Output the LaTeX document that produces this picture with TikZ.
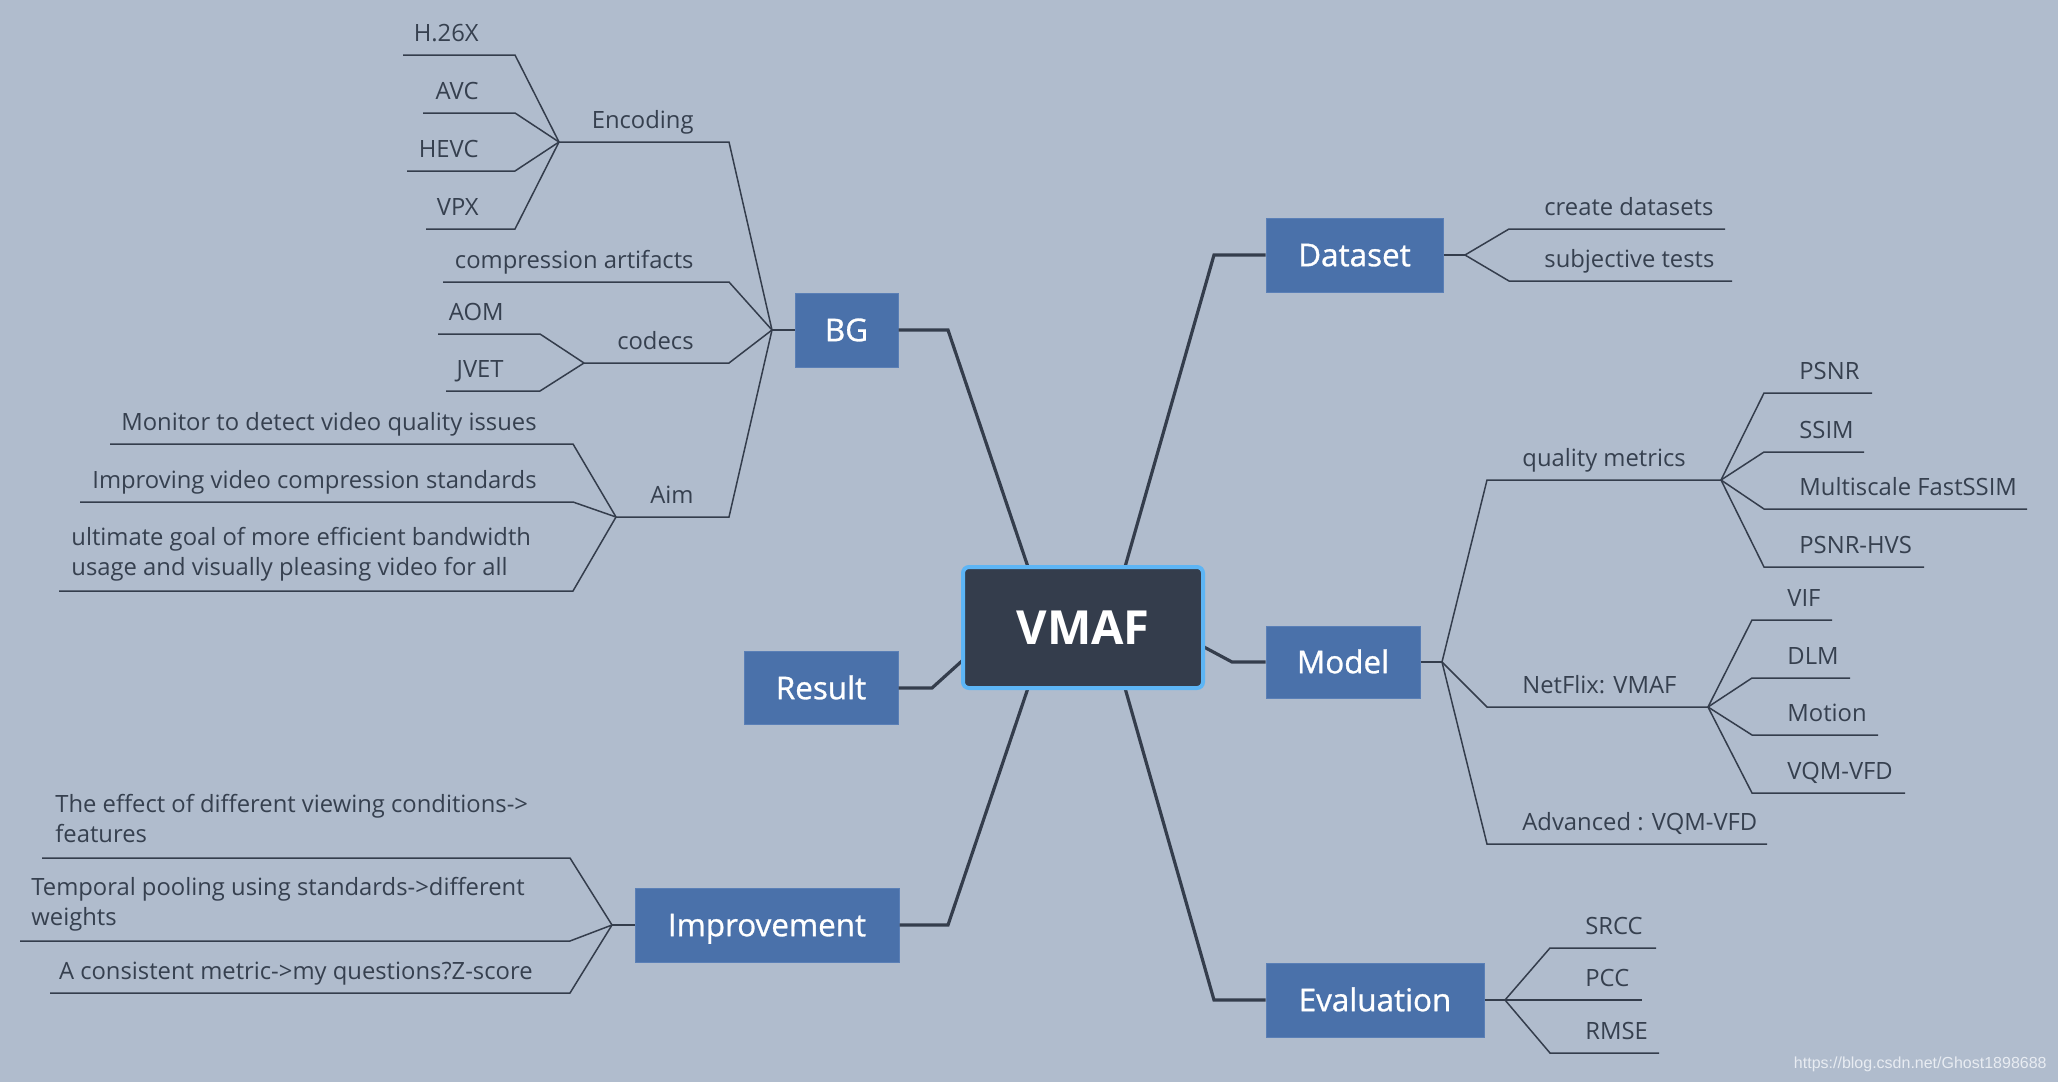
\documentclass[tikz,border=0pt]{standalone}
\usepackage{fontspec}
\setmainfont{Open Sans}
\newfontfamily\boxfamily[FakeBold=0.9]{Open Sans}
\newfontfamily\wmfont{Liberation Sans}
\definecolor{bgc}{HTML}{B0BCCD}
\definecolor{boxblue}{HTML}{4A71AA}
\definecolor{boxedge}{HTML}{5A7FB6}
\definecolor{darkc}{HTML}{343D4C}
\definecolor{ringc}{HTML}{5DB5F5}
\definecolor{linec}{HTML}{343D4C}
\definecolor{textc}{HTML}{36404F}
\definecolor{wmc}{HTML}{E8ECF2}
\newcommand\lblfont{\fontsize{11.9}{14.75}\selectfont}
\newcommand\boxfont{\boxfamily\fontsize{15.7}{18}\selectfont}
\begin{document}
\begin{tikzpicture}[x=0.5pt,y=-0.5pt,
  topic/.style={fill=boxblue, draw=boxedge, line width=0.5pt, text=white, font=\boxfont, minimum height=37pt, inner sep=0pt, text height=11.2pt, text depth=0pt},
  mainline/.style={draw=linec, line width=1.6pt},
  subline/.style={draw=linec, line width=0.75pt},
  lbl/.style={text=textc, font=\lblfont, inner sep=0pt},
  lblL/.style={lbl, anchor=base east},
  lblR/.style={lbl, anchor=base west},
  lblM/.style={lbl, anchor=base west, align=left}]
\fill[bgc] (0,0) rectangle (2058,1082);
\useasboundingbox (0,0) rectangle (2058,1082);

% ---------- main connector ends on the central node ----------
\coordinate (v-tl) at (1028,567); \coordinate (v-tr) at (1125,567);
\coordinate (v-bl) at (1028,688); \coordinate (v-br) at (1125,688);
\coordinate (v-r) at (1204,647); \coordinate (v-l) at (963,660);

% ---------- topic boxes ----------
\node[topic, minimum width=51.5pt] (bg) at (846.5,330) {BG};
\node[topic, minimum width=88.5pt] (dataset) at (1354.5,255) {Dataset};
\node[topic, minimum width=77pt, minimum height=36pt] (model) at (1343,662) {Model};
\node[topic, minimum width=77pt, minimum height=36.5pt] (result) at (821,688) {Result};
\node[topic, minimum width=132pt] (improve) at (767,925) {Improvement};
\node[topic, minimum width=109pt] (eval) at (1375,1000) {Evaluation};

\draw[mainline] (v-tl) -- (948,330) -- (bg.east);
\draw[mainline] (v-tr) -- (1214,255) -- (dataset.west);
\draw[mainline] (v-r) -- (1232,662) -- (model.west);
\draw[mainline] (v-l) -- (932,688) -- (result.east);
\draw[mainline] (v-bl) -- (948,925) -- (improve.east);
\draw[mainline] (v-br) -- (1214,1000) -- (eval.west);

% ---------- central node ----------
\node[draw=ringc, line width=2pt, fill=darkc, rounded corners=3pt, minimum width=120pt, minimum height=60.5pt, inner sep=0pt, text=white, font=\fontsize{23.5}{26}\selectfont\bfseries] (vmaf) at (1083,627.5) {VMAF};

% ---------- BG branch ----------
\coordinate (bg-f) at (772,330);
\draw[subline] (bg.west) -- (bg-f);
\node[lblL] (enc) at (694,128) {Encoding};
\node[lblL] (comp) at (694,268) {compression artifacts};
\node[lblL] (codecs) at (694,349) {codecs};
\node[lblL] (aim) at (694,503) {Aim};
\draw[subline] (bg-f) -- (729,142) -- (559,142) coordinate (enc-f);
\draw[subline] (bg-f) -- (729,282) -- (443,282);
\draw[subline] (bg-f) -- (729,363) -- (584,363) coordinate (codecs-f);
\draw[subline] (bg-f) -- (729,517) -- (616,517) coordinate (aim-f);

\node[lblL] (h26x) at (479,41) {H.26X};
\node[lblL] (avc) at (479,99) {AVC};
\node[lblL] (hevc) at (479,157) {HEVC};
\node[lblL] (vpx) at (479,215) {VPX};
\draw[subline] (enc-f) -- (515,55) -- (403,55);
\draw[subline] (enc-f) -- (515,113) -- (423,113);
\draw[subline] (enc-f) -- (515,171) -- (407,171);
\draw[subline] (enc-f) -- (515,229) -- (426,229);

\node[lblL] (aom) at (504,320) {AOM};
\node[lblL] (jvet) at (504,377) {JVET};
\draw[subline] (codecs-f) -- (540,334) -- (438,334);
\draw[subline] (codecs-f) -- (540,391) -- (446,391);

\node[lblL] (monitor) at (537,430) {Monitor to detect video quality issues};
\node[lblL] (improving) at (537,488) {Improving video compression standards};
\node[lblM] (ultimate) at (71,575) {ultimate goal of more efficient bandwidth\\usage and visually pleasing video for all};
\draw[subline] (aim-f) -- (573,444) -- (110,444);
\draw[subline] (aim-f) -- (573,502) -- (80,502);
\draw[subline] (aim-f) -- (573,591) -- (59,591);

% ---------- Improvement branch ----------
\coordinate (imp-f) at (612,925);
\draw[subline] (improve.west) -- (imp-f);
\node[lblM] (effect) at (55,842) {The effect of different viewing conditions->\\features};
\node[lblM] (temporal) at (31,925) {Temporal pooling using standards->different\\weights};
\node[lblL] (consistent) at (533,979) {A consistent metric->my questions?Z-score};
\draw[subline] (imp-f) -- (570,858) -- (42,858);
\draw[subline] (imp-f) -- (570,941) -- (20,941);
\draw[subline] (imp-f) -- (570,993) -- (50,993);

% ---------- Dataset branch ----------
\coordinate (ds-f) at (1465,255);
\draw[subline] (dataset.east) -- (ds-f);
\node[lblR] (create) at (1544,215) {create datasets};
\node[lblR] (subj) at (1544,267) {subjective tests};
\draw[subline] (ds-f) -- (1509,229) -- (1725,229);
\draw[subline] (ds-f) -- (1509,281) -- (1732,281);

% ---------- Model branch ----------
\coordinate (m-f) at (1442,662);
\draw[subline] (model.east) -- (m-f);
\node[lblR] (qm) at (1522,466) {quality metrics};
\node[lblR] (nf) at (1522,693) {NetFlix: VMAF};
\node[lblR] (adv) at (1522,830) {Advanced : VQM-VFD};
\draw[subline] (m-f) -- (1487,480) -- (1721,480) coordinate (qm-f);
\draw[subline] (m-f) -- (1487,707) -- (1708,707) coordinate (nf-f);
\draw[subline] (m-f) -- (1487,844) -- (1767,844);

\node[lblR] (psnr) at (1799,379) {PSNR};
\node[lblR] (ssim) at (1799,438) {SSIM};
\node[lblR] (msf) at (1799,495) {Multiscale FastSSIM};
\node[lblR] (hvs) at (1799,553) {PSNR-HVS};
\draw[subline] (qm-f) -- (1764,393) -- (1872,393);
\draw[subline] (qm-f) -- (1764,452) -- (1864,452);
\draw[subline] (qm-f) -- (1764,509) -- (2027,509);
\draw[subline] (qm-f) -- (1764,567) -- (1924,567);

\node[lblR] (vif) at (1787,606) {VIF};
\node[lblR] (dlm) at (1787,664) {DLM};
\node[lblR] (motion) at (1787,721) {Motion};
\node[lblR] (vqm) at (1787,779) {VQM-VFD};
\draw[subline] (nf-f) -- (1752,620) -- (1832,620);
\draw[subline] (nf-f) -- (1752,678) -- (1850,678);
\draw[subline] (nf-f) -- (1752,735) -- (1878,735);
\draw[subline] (nf-f) -- (1752,793) -- (1905,793);

% ---------- Evaluation branch ----------
\coordinate (e-f) at (1505,1000);
\draw[subline] (eval.east) -- (e-f);
\node[lblR] (srcc) at (1585,934) {SRCC};
\node[lblR] (pcc) at (1585,986) {PCC};
\node[lblR] (rmse) at (1585,1039) {RMSE};
\draw[subline] (e-f) -- (1550,948) -- (1656,948);
\draw[subline] (e-f) -- (1642,1000);
\draw[subline] (e-f) -- (1550,1053) -- (1659,1053);

% ---------- watermark ----------
\node[anchor=base east, inner sep=0pt, text=wmc, font=\wmfont\fontsize{8}{10}\selectfont] (wm) at (2047,1068) {https://blog.csdn.net/Ghost1898688};
\end{tikzpicture}
\end{document}
